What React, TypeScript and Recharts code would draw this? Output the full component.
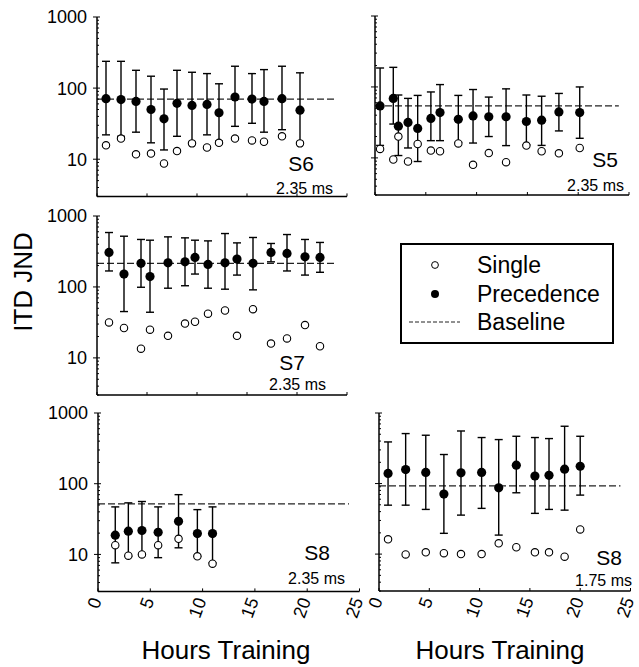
import React from 'react';
import { ComposedChart, Scatter, ErrorBar, XAxis, YAxis, ReferenceLine } from 'recharts';

const FONT = '"Liberation Sans", Arial, Helvetica, sans-serif';

// axis ticks
const X_TICKS = [0, 5, 10, 15, 20, 25];
const Y_MAJOR = [10, 100, 1000];
const Y_TICKS = [3, 4, 5, 6, 7, 8, 9, 10, 20, 30, 40, 50, 60, 70, 80, 90, 100, 200, 300, 400, 500, 600, 700, 800, 900, 1000];

// S6, 2.35 ms
const s6Hours = [0.9, 2.4, 3.9, 5.4, 6.7, 8.0, 9.5, 11.0, 12.2, 13.8, 15.5, 16.7, 18.5, 20.3];
const s6Single = [15.7, 19.5, 11.7, 12, 8.7, 13, 16.7, 14.6, 17, 19.5, 18.4, 17.6, 21, 16.7];
const s6Prec = [71, 69, 65, 50, 37, 61, 57, 59, 45, 75, 70, 65, 71, 49];
const s6Lo = [22, 21, 24, 17, 13.5, 21, 17, 22, 18, 29, 32, 24, 26, 17];
const s6Hi = [238, 238, 178, 147, 97, 178, 167, 160, 115, 203, 160, 182, 203, 164];
const s6Base = 70;

// S5, 2.35 ms
const s5Hours = [0.5, 1.8, 2.3, 3.25, 4.2, 5.5, 6.4, 8.2, 9.65, 11.2, 12.9, 14.9, 16.4, 18.1, 20.15];
const s5Single = [13.4, 9.5, 20, 8.9, 15.7, 12.7, 12.4, 16, 8, 11.7, 8.7, 14.9, 12.4, 11.6, 13.8];
const s5Prec = [54, 69, 28, 31.6, 26, 36, 43.5, 35, 39, 38, 38, 32.6, 34, 44.5, 43.5];
const s5Lo = [15, 30, 10.8, 13.8, 8.9, 17.5, 17.5, 16.6, 16.2, 20, 14.9, 15.3, 15, 24, 18.9];
const s5Hi = [185, 189, 77, 69, 76, 85, 108, 76, 92, 72, 94, 77, 74, 81, 100];
const s5Base = 54;

// S7, 2.35 ms
const s7Hours = [1.2, 2.7, 4.4, 5.3, 7.1, 8.8, 9.8, 11.1, 12.8, 14.0, 15.6, 17.4, 19.0, 20.8, 22.3];
const s7Single = [31.6, 26.4, 13.5, 25, 20.5, 30.5, 32.3, 42, 46.6, 20.5, 48.6, 15.9, 18.8, 29, 14.6];
const s7Prec = [307, 152, 215, 140, 219, 226, 261, 208, 219, 247, 215, 307, 297, 266, 261];
const s7Lo = [168, 45, 99, 44, 96, 104, 152, 96, 93, 147, 91, 226, 168, 147, 161];
const s7Hi = [585, 519, 467, 456, 508, 492, 456, 446, 566, 418, 498, 410, 548, 467, 424];
const s7Base = 215;

// S8, 2.35 ms
const s8aHours = [1.65, 2.9, 4.2, 5.75, 7.7, 9.5, 10.95];
const s8aSingle = [13.5, 9.6, 10, 13.5, 16.6, 9.4, 7.4];
const s8aPrec = [18.7, 21.3, 21.8, 20.6, 29.4, 19.7, 19.7];
const s8aLo = [7.6, 9.4, 10, 9, 12.4, 9.4, 7.6];
const s8aHi = [47, 53.6, 56, 47, 70, 43, 47];
const s8aBase = 52;

// S8, 1.75 ms
const s8bHours = [0.9, 2.65, 4.65, 6.45, 8.15, 10.2, 11.9, 13.65, 15.5, 16.9, 18.45, 20.0];
const s8bSingle = [16.2, 9.9, 10.6, 10.3, 10, 10, 14.2, 12.5, 10.6, 10.6, 9.2, 22.4];
const s8bPrec = [139, 158, 144, 71, 142, 144, 87, 182, 128, 131, 160, 176];
const s8bLo = [49.4, 49.4, 43, 19.7, 35.7, 44.5, 18.6, 74, 37.8, 43, 42, 68.6];
const s8bHi = [389, 511, 484, 258, 556, 449, 420, 468, 449, 434, 649, 468];
const s8bBase = 93;

function rows(hours: number[], single: number[], prec: number[], lo: number[], hi: number[]) {
  return {
    single: hours.map((h, i) => ({ h, v: single[i] })),
    prec: hours.map((h, i) => ({ h, v: prec[i], err: [prec[i] - lo[i], hi[i] - prec[i]] })),
  };
}

const openDot = (p: any) => <circle cx={p.cx} cy={p.cy} r={3.7} fill="#fff" stroke="#000" strokeWidth={1.1} />;
const filledDot = (p: any) => <circle cx={p.cx} cy={p.cy} r={4.6} fill="#000" />;

function YTick(props: any) {
  const { x, y, payload, showLabel } = props;
  const major = Y_MAJOR.includes(payload.value);
  return (
    <g>
      <line x1={major ? x - 4 : x} x2={major ? x + 3 : x + 2} y1={y} y2={y} stroke="#000" strokeWidth={1} />
      {major && showLabel && (
        <text x={x - 10} y={y} dy="0.36em" textAnchor="end" fontSize={18} fontFamily={FONT} fill="#000">
          {payload.value}
        </text>
      )}
    </g>
  );
}

function XTick(props: any) {
  const { x, y, payload, showLabel } = props;
  return (
    <g>
      <line x1={x} x2={x} y1={y} y2={y - 3} stroke="#000" strokeWidth={1} />
      {showLabel && (
        <text transform={`translate(${x + 4},${y + 9}) rotate(-70)`} textAnchor="end" fontSize={18} fontFamily={FONT} fill="#000">
          {payload.value}
        </text>
      )}
    </g>
  );
}

type Box = { x: number; y: number; w: number; h: number };

function Panel({ box, data, baseline, yLabels, xLabels }: { box: Box; data: ReturnType<typeof rows>; baseline: number; yLabels: boolean; xLabels: boolean }) {
  const yW = yLabels ? 90 : 20;
  const mt = 10;
  const xH = xLabels ? 40 : 8;
  return (
    <div style={{ position: 'absolute', left: box.x - yW, top: box.y - mt }}>
      <ComposedChart width={yW + box.w + 8} height={mt + box.h + xH} margin={{ top: mt, right: 8, bottom: 0, left: 0 }}>
        <XAxis
          type="number"
          dataKey="h"
          domain={[0, 25]}
          ticks={X_TICKS}
          interval={0}
          tickSize={0}
          tickMargin={0}
          tickLine={false}
          height={xH}
          axisLine={{ stroke: '#000', strokeWidth: 1.5 }}
          tick={(p: any) => <XTick {...p} showLabel={xLabels} />}
          allowDataOverflow
        />
        <YAxis
          type="number"
          dataKey="v"
          scale="log"
          domain={[3, 1000]}
          ticks={Y_TICKS}
          interval={0}
          tickSize={0}
          tickMargin={0}
          tickLine={false}
          width={yW}
          axisLine={{ stroke: '#000', strokeWidth: 1.5 }}
          tick={(p: any) => <YTick {...p} showLabel={yLabels} />}
          allowDataOverflow
        />
        <ReferenceLine
          segment={[{ x: 0, y: baseline }, { x: 24, y: baseline }]}
          stroke="#222"
          strokeWidth={1.2}
          strokeDasharray="7 3"
        />
        <Scatter data={data.single} shape={openDot} isAnimationActive={false} />
        <Scatter data={data.prec} shape={filledDot} isAnimationActive={false}>
          <ErrorBar dataKey="err" direction="y" width={4} stroke="#000" strokeWidth={1.4} />
        </Scatter>
      </ComposedChart>
    </div>
  );
}

const NOTES = [
  { t: 'S6', x: 314, y: 171, s: 21 },
  { t: '2.35 ms', x: 333, y: 194, s: 16 },
  { t: 'S5', x: 618, y: 167, s: 21 },
  { t: '2.35 ms', x: 624, y: 191, s: 16 },
  { t: 'S7', x: 305, y: 370, s: 21 },
  { t: '2.35 ms', x: 326, y: 390, s: 16 },
  { t: 'S8', x: 330, y: 560, s: 21 },
  { t: '2.35 ms', x: 345, y: 584, s: 16 },
  { t: 'S8', x: 622, y: 565, s: 21 },
  { t: '1.75 ms', x: 632, y: 586, s: 16 },
];

export default function App() {
  return (
    <div style={{ position: 'absolute', left: 0, top: 0, width: 639, height: 667, background: '#fff', fontFamily: FONT }}>
      <Panel box={{ x: 96.7, y: 17.3, w: 250, h: 179.4 }} data={rows(s6Hours, s6Single, s6Prec, s6Lo, s6Hi)} baseline={s6Base} yLabels xLabels={false} />
      <Panel box={{ x: 375.3, y: 16, w: 254, h: 179 }} data={rows(s5Hours, s5Single, s5Prec, s5Lo, s5Hi)} baseline={s5Base} yLabels={false} xLabels={false} />
      <Panel box={{ x: 97, y: 215.7, w: 250, h: 179 }} data={rows(s7Hours, s7Single, s7Prec, s7Lo, s7Hi)} baseline={s7Base} yLabels xLabels={false} />
      <Panel box={{ x: 97.7, y: 413.3, w: 261.5, h: 178.4 }} data={rows(s8aHours, s8aSingle, s8aPrec, s8aLo, s8aHi)} baseline={s8aBase} yLabels xLabels />
      <Panel box={{ x: 379.3, y: 412.7, w: 251.5, h: 178 }} data={rows(s8bHours, s8bSingle, s8bPrec, s8bLo, s8bHi)} baseline={s8bBase} yLabels={false} xLabels />

      <svg width={639} height={667} style={{ position: 'absolute', left: 0, top: 0, pointerEvents: 'none' }} fontFamily={FONT}>
        {NOTES.map((n, i) => (
          <text key={i} x={n.x} y={n.y} fontSize={n.s} textAnchor="end" fill="#000">{n.t}</text>
        ))}
        <text transform="translate(32,282) rotate(-90)" textAnchor="middle" fontSize={26} fill="#000">ITD JND</text>
        <text x={226} y={659} textAnchor="middle" fontSize={26} fill="#000">Hours Training</text>
        <text x={500} y={659} textAnchor="middle" fontSize={26} fill="#000">Hours Training</text>

        <rect x={401} y={244} width={212} height={99} fill="#fff" stroke="#000" strokeWidth={2} />
        <circle cx={435} cy={265} r={3.4} fill="#fff" stroke="#000" strokeWidth={1} />
        <text x={477} y={273} fontSize={23} fill="#000">Single</text>
        <circle cx={435} cy={294} r={4} fill="#000" />
        <text x={477} y={302} fontSize={23} fill="#000">Precedence</text>
        <line x1={409} x2={460} y1={322} y2={322} stroke="#222" strokeWidth={1} strokeDasharray="4 2" />
        <text x={477} y={330} fontSize={23} fill="#000">Baseline</text>
      </svg>
    </div>
  );
}
